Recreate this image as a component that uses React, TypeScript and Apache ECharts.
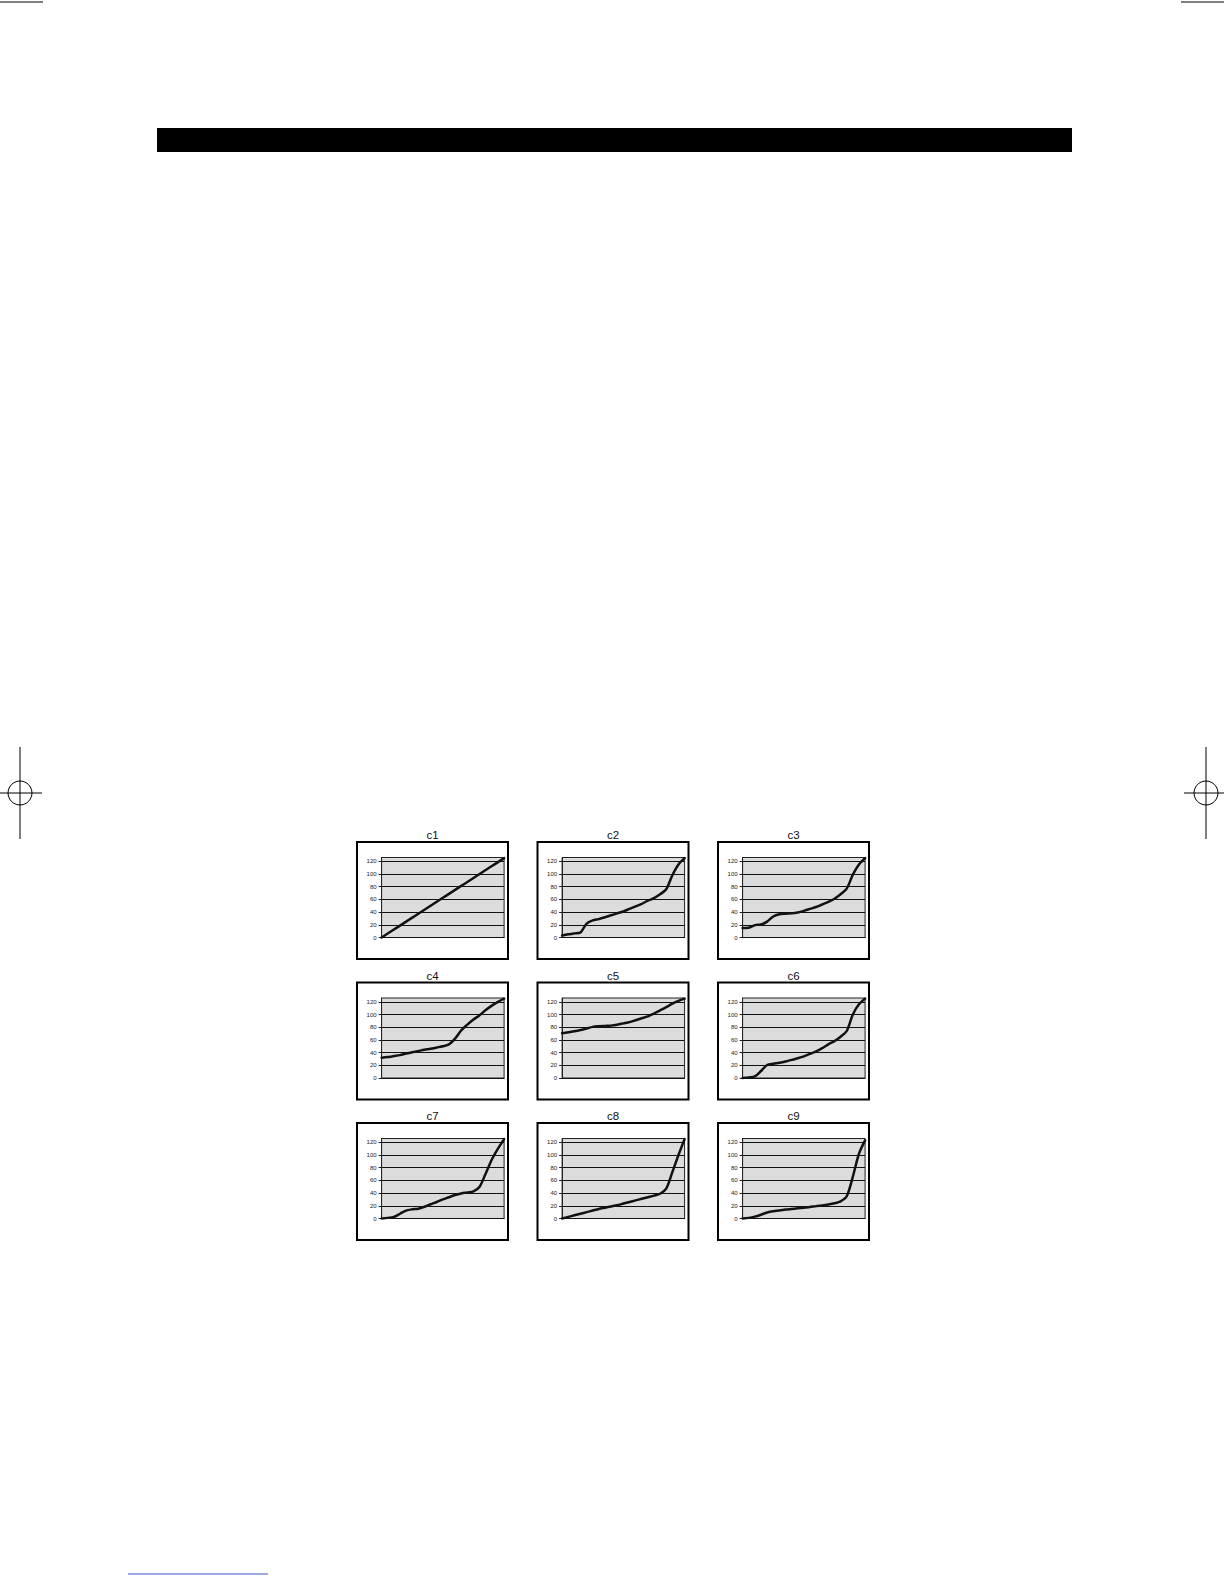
import React, { useEffect, useRef } from "react";
import * as echarts from "echarts";

// ---------- data ----------
const chartNames = ["c1", "c2", "c3", "c4", "c5", "c6", "c7", "c8", "c9"];
const categories = ["1","2","3","4","5","6","7","8","9","10","11","12","13","14","15","16","17","18","19","20","21"];
const yTicks = [0, 20, 40, 60, 80, 100, 120];
const yMax = 126;

const c1 = [0, 6.25, 12.5, 18.75, 25, 31.25, 37.5, 43.75, 50, 56.25, 62.5, 68.75, 75, 81.25, 87.5, 93.75, 100, 106.25, 112.5, 118.75, 125];
const c2 = [3, 5, 6.5, 8, 22, 27, 29, 32, 35, 38, 41, 45, 49, 53, 58, 62, 68, 76, 98, 115, 125];
const c3 = [15, 15.5, 19.5, 20.5, 25, 33, 36.5, 37.5, 38, 39.5, 42, 45, 48, 52, 56, 61, 68, 77, 99, 115, 125];
const c4 = [32, 33, 34.5, 36, 38.5, 40.5, 42.5, 44.5, 46, 48, 50, 53, 62, 75, 84, 92, 99, 107, 114, 120, 125];
const c5 = [70.5, 72, 73.5, 75.5, 78, 80.5, 81.5, 82, 82.5, 84, 86, 88, 91, 94, 97, 101.5, 106.5, 111.5, 117, 121.5, 125];
const c6 = [0, 1, 2.5, 11, 20.5, 22.5, 24, 26, 28.5, 31, 34, 38, 42, 47, 53, 58, 65, 74, 100, 116, 125];
const c7 = [0, 1, 2.5, 7.5, 12.5, 14.5, 15.5, 18.5, 22.5, 26, 30, 33.5, 37, 39.5, 41, 42.7, 50, 71, 93, 110, 125];
const c8 = [0, 2.5, 5, 7.5, 10, 12.5, 15, 17, 19, 21, 23.5, 26, 28.5, 31, 33.5, 36, 39, 47, 73, 100, 125];
const c9 = [0, 1, 3, 6, 9.5, 11.5, 12.5, 14, 15, 16, 17, 18, 19.5, 20.5, 22, 24, 27, 35, 66, 102, 123];

const seriesData = [c1, c2, c3, c4, c5, c6, c7, c8, c9];

// ---------- layout ----------
const boxLeft = [357, 537.5, 718];
const boxTop = [842, 982.5, 1123];
const BOX_W = 151;
const BOX_H = 117;
const PLOT_DX = 24.6;
const PLOT_DY = 15.5;
const PLOT_W = 122.5;
const PLOT_H = 80;
const FONT = "'Liberation Sans', Arial, Helvetica, sans-serif";

function buildOption() {
  const grid: any[] = [];
  const xAxis: any[] = [];
  const yAxis: any[] = [];
  const series: any[] = [];
  const graphic: any[] = [];

  // top black bar
  graphic.push({ type: "rect", shape: { x: 157, y: 128, width: 915, height: 24 }, style: { fill: "#000" }, silent: true });
  // crop marks
  graphic.push({ type: "line", shape: { x1: 0, y1: 2, x2: 43, y2: 2 }, style: { stroke: "#000", lineWidth: 1 } });
  graphic.push({ type: "line", shape: { x1: 1181, y1: 2, x2: 1224, y2: 2 }, style: { stroke: "#000", lineWidth: 1 } });
  // registration marks
  [20, 1206].forEach((cx) => {
    const cy = 793;
    graphic.push({ type: "circle", shape: { cx, cy, r: 12 }, style: { fill: "none", stroke: "#000", lineWidth: 1 } });
    graphic.push({ type: "line", shape: { x1: cx, y1: cy - 46, x2: cx, y2: cy + 46 }, style: { stroke: "#000", lineWidth: 1 } });
    graphic.push({ type: "line", shape: { x1: cx - 22, y1: cy, x2: cx + 22, y2: cy }, style: { stroke: "#000", lineWidth: 1 } });
  });
  // bottom blue line
  graphic.push({ type: "line", shape: { x1: 128, y1: 1574, x2: 268, y2: 1574 }, style: { stroke: "#3a55c8", lineWidth: 1 } });

  chartNames.forEach((name, i) => {
    const r = Math.floor(i / 3);
    const c = i % 3;
    const bx = boxLeft[c];
    const by = boxTop[r];

    graphic.push({
      type: "rect",
      shape: { x: bx, y: by, width: BOX_W, height: BOX_H },
      style: { fill: "none", stroke: "#000", lineWidth: 2 },
      silent: true,
    });
    graphic.push({
      type: "text",
      x: bx + BOX_W / 2,
      y: by - 7,
      style: { text: name, fill: "#111", font: `11.5px ${FONT}`, textAlign: "center", textVerticalAlign: "middle" },
    });

    grid.push({
      left: bx + PLOT_DX,
      top: by + PLOT_DY,
      width: PLOT_W,
      height: PLOT_H,
      show: true,
      backgroundColor: "#dcdcdc",
      borderColor: "#222",
      borderWidth: 1,
      containLabel: false,
    });
    xAxis.push({
      gridIndex: i,
      type: "category",
      data: categories,
      boundaryGap: false,
      axisLine: { show: true, lineStyle: { color: "#111", width: 1 } },
      axisTick: { show: false },
      axisLabel: { show: false },
      splitLine: { show: false },
    });
    yAxis.push({
      gridIndex: i,
      type: "value",
      min: 0,
      max: yMax,
      interval: 20,
      axisLine: { show: true, lineStyle: { color: "#222", width: 1 } },
      axisTick: { show: true, length: 3, lineStyle: { color: "#222", width: 1 }, customValues: yTicks },
      axisLabel: {
        fontSize: 6,
        color: "#222",
        margin: 5,
        fontFamily: FONT,
        formatter: (v: number) => (yTicks.indexOf(v) >= 0 ? String(v) : ""),
      },
      splitLine: { show: true, lineStyle: { color: "#111", width: 1 } },
    });
    series.push({
      type: "line",
      xAxisIndex: i,
      yAxisIndex: i,
      data: seriesData[i],
      smooth: 0.3,
      symbol: "none",
      clip: false,
      lineStyle: { color: "#111", width: 2.5, join: "round", cap: "round" },
    });
  });

  return {
    animation: false,
    backgroundColor: "#fff",
    grid,
    xAxis,
    yAxis,
    series,
    graphic,
  };
}

export default function App() {
  const ref = useRef<HTMLDivElement>(null);
  useEffect(() => {
    if (!ref.current) return;
    const chart = echarts.init(ref.current, undefined, { renderer: "svg" });
    chart.setOption(buildOption() as any);
    return () => chart.dispose();
  }, []);
  return (
    <div
      ref={ref}
      style={{ position: "fixed", left: 0, top: 0, width: 1224, height: 1584, background: "#fff" }}
    />
  );
}
